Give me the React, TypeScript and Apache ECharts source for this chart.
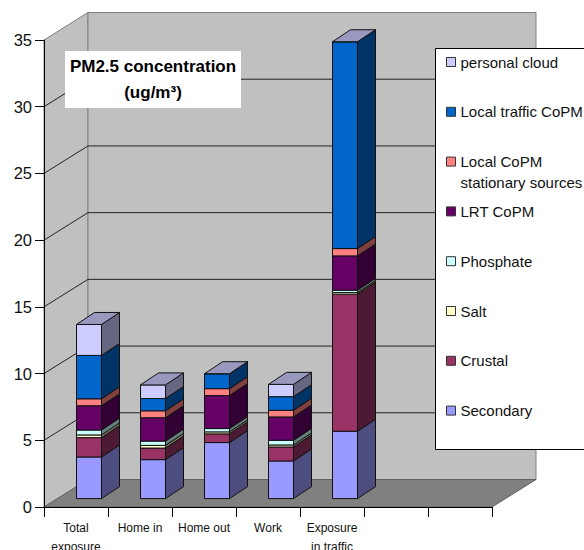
import React, { useEffect, useRef } from "react";
import * as echarts from "echarts";

const categories = ["Total\nexposure", "Home in", "Home out", "Work", "Exposure\nin traffic", "", ""];
const yTicks = [0, 5, 10, 15, 20, 25, 30, 35];

const secondary = [3.12, 2.92, 4.2, 2.82, 5.05];
const crustal = [1.45, 0.87, 0.65, 1.05, 10.27];
const salt = [0.2, 0.2, 0.15, 0.15, 0.12];
const phosphate = [0.37, 0.32, 0.25, 0.35, 0.18];
const lrt = [1.82, 1.75, 2.47, 1.75, 2.57];
const localStationary = [0.52, 0.52, 0.52, 0.5, 0.55];
const localTraffic = [3.25, 0.92, 1.12, 1.02, 15.5];
const personalCloud = [2.32, 1.02, 0, 0.92, 0];

const seriesNames = [
  "Secondary",
  "Crustal",
  "Salt",
  "Phosphate",
  "LRT CoPM",
  "Local CoPM stationary sources",
  "Local traffic CoPM",
  "personal cloud",
];
const seriesValues = [secondary, crustal, salt, phosphate, lrt, localStationary, localTraffic, personalCloud];
const frontColors = ["#9999FF", "#993366", "#FFFFCC", "#CCFFFF", "#660066", "#FF8080", "#0066CC", "#CCCCFF"];
const sideColors = ["#4D4D80", "#4D1A33", "#808066", "#668080", "#330033", "#804040", "#003366", "#666680"];
const topColor = "#9999BF";
const legendOrder = [...seriesNames].reverse();

const WALL_DX = 44;
const WALL_DY = -27.5;
const BAR_SHIFT_X = 13;
const BAR_SHIFT_Y = -8.4;
const BAR_W = 25;
const BAR_DX = 18;
const BAR_DY = -12;
const FONT = "'Liberation Sans', Arial, sans-serif";
const EDGE = "#111";

const poly = (points: number[][], fill: string, stroke: string | null, lineWidth = 1) => ({
  type: "polygon",
  shape: { points },
  style: { fill, stroke: stroke ?? "none", lineWidth },
});

export default function App() {
  const ref = useRef<HTMLDivElement>(null);

  useEffect(() => {
    const chart = echarts.init(ref.current!, undefined, { renderer: "svg" });

    const wallSeries = {
      type: "custom",
      name: "wall",
      silent: true,
      z: 1,
      coordinateSystem: "cartesian2d",
      data: yTicks.map((t) => [0, t]),
      encode: { x: 0, y: 1 },
      renderItem: (params: any, api: any) => {
        const t = api.value(1);
        const y = api.coord([0, t])[1];
        const cs = params.coordSys;
        const x0 = cs.x;
        const x1 = cs.x + cs.width;
        const children: any[] = [];
        if (t === 0) {
          const top = cs.y;
          const bot = cs.y + cs.height;
          children.push(
            poly([[x0, bot], [x0, top], [x0 + WALL_DX, top + WALL_DY], [x0 + WALL_DX, bot + WALL_DY]], "#C0C0C0", "#808080"),
            poly([[x0 + WALL_DX, top + WALL_DY], [x1 + WALL_DX, top + WALL_DY], [x1 + WALL_DX, bot + WALL_DY], [x0 + WALL_DX, bot + WALL_DY]], "#C0C0C0", "#808080"),
            poly([[x0, bot], [x0 + WALL_DX, bot + WALL_DY], [x1 + WALL_DX, bot + WALL_DY], [x1, bot]], "#808080", "#606060")
          );
        } else if (t < 35) {
          children.push({
            type: "polyline",
            shape: { points: [[x0, y], [x0 + WALL_DX, y + WALL_DY], [x1 + WALL_DX, y + WALL_DY]] },
            style: { fill: "none", stroke: "#222", lineWidth: 1 },
          });
        }
        return { type: "group", children };
      },
    };

    const barSeries = seriesNames.map((name, s) => ({
      type: "custom",
      name,
      z: 3 + s,
      coordinateSystem: "cartesian2d",
      itemStyle: { color: frontColors[s], borderColor: "#333", borderWidth: 1 },
      data: seriesValues[s].map((v, i) => {
        let start = 0;
        for (let k = 0; k < s; k++) start += seriesValues[k][i];
        return [i, start, start + v];
      }),
      encode: { x: 0, y: [1, 2] },
      renderItem: (_params: any, api: any) => {
        const [cx, yBase] = api.coord([api.value(0), api.value(1)]);
        const yTop = api.coord([api.value(0), api.value(2)])[1];
        const l = cx + BAR_SHIFT_X - BAR_W / 2;
        const r = l + BAR_W;
        const b = yBase + BAR_SHIFT_Y;
        const t = yTop + BAR_SHIFT_Y;
        const children: any[] = [
          poly([[r, b], [r, t], [r + BAR_DX, t + BAR_DY], [r + BAR_DX, b + BAR_DY]], sideColors[s], EDGE),
          poly([[l, b], [r, b], [r, t], [l, t]], frontColors[s], EDGE),
        ];
        if (s === seriesNames.length - 1) {
          children.push(poly([[l, t], [r, t], [r + BAR_DX, t + BAR_DY], [l + BAR_DX, t + BAR_DY]], topColor, EDGE));
        }
        return { type: "group", children };
      },
    }));

    chart.setOption({
      animation: false,
      backgroundColor: "#fff",
      textStyle: { fontFamily: FONT },
      grid: { left: 44, right: 92, top: 40, bottom: 43, containLabel: false, outerBoundsMode: "none" },
      xAxis: {
        type: "category",
        data: categories,
        z: 8,
        axisLine: { show: true, lineStyle: { color: "#000", width: 1 } },
        axisTick: { show: true, alignWithLabel: false, length: 10, lineStyle: { color: "#000", width: 1 } },
        axisLabel: { interval: 0, fontSize: 12, lineHeight: 19, margin: 11, color: "#111", fontFamily: FONT },
        splitLine: { show: false },
      },
      yAxis: {
        type: "value",
        min: 0,
        max: 35,
        interval: 5,
        z: 8,
        axisLine: { show: true, lineStyle: { color: "#000", width: 1 } },
        axisTick: { show: true, length: 9, lineStyle: { color: "#000" } },
        axisLabel: { fontSize: 16.5, margin: 12, color: "#111", fontFamily: FONT },
        splitLine: { show: false },
      },
      legend: {
        orient: "vertical",
        left: 446,
        top: 54,
        padding: 0,
        height: 480,
        z: 20,
        data: legendOrder,
        icon: "rect",
        itemWidth: 9,
        itemHeight: 9,
        itemGap: 33.8,
        selectedMode: false,
        formatter: (n: string) => (n.startsWith("Local CoPM") ? "Local CoPM" : n),
        textStyle: { fontSize: 15, lineHeight: 16, color: "#111", fontFamily: FONT },
        itemStyle: { borderColor: "#333", borderWidth: 1 },
      },
      graphic: [
        {
          type: "rect",
          z: 15,
          silent: true,
          shape: { x: 435.5, y: 48.5, width: 160, height: 401 },
          style: { fill: "#fff", stroke: "#000", lineWidth: 1 },
        },
        {
          type: "text",
          z: 21,
          silent: true,
          x: 460.5,
          y: 182,
          style: { text: "stationary sources", fontSize: 15, fontFamily: FONT, fill: "#111", verticalAlign: "middle" },
        },
        {
          type: "rect",
          z: 15,
          silent: true,
          shape: { x: 65, y: 51, width: 176, height: 57 },
          style: { fill: "#fff", stroke: "none" },
        },
        {
          type: "text",
          z: 21,
          silent: true,
          x: 153,
          y: 79.5,
          style: {
            text: "PM2.5 concentration\n(ug/m³)",
            fontSize: 17,
            fontWeight: "bold",
            lineHeight: 26,
            fontFamily: FONT,
            fill: "#000",
            align: "center",
            verticalAlign: "middle",
          },
        },
      ],
      series: [wallSeries, ...barSeries],
    });

    return () => chart.dispose();
  }, []);

  return (
    <div
      ref={ref}
      style={{ position: "absolute", left: 0, top: 0, width: 584, height: 550, overflow: "hidden" }}
    />
  );
}
